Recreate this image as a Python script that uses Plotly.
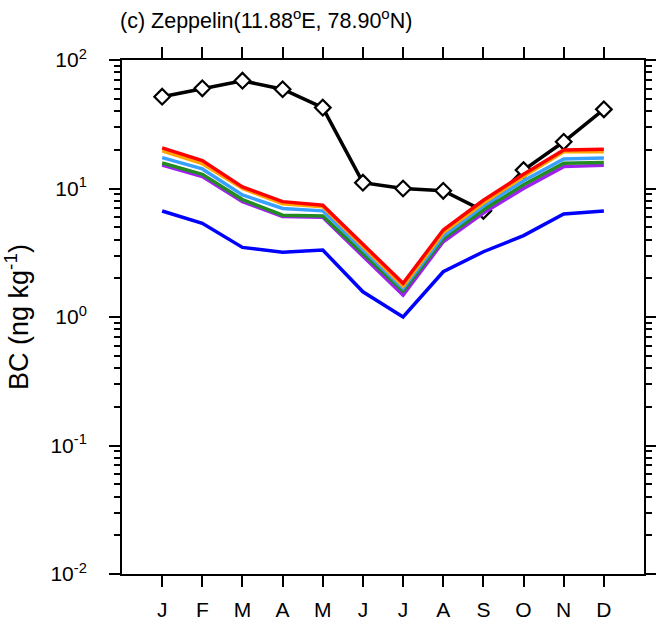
import plotly.graph_objects as go

# Monthly BC mixing ratio at Zeppelin (ng/kg)
months = ["J", "F", "M", "A", "M", "J", "J", "A", "S", "O", "N", "D"]
obs = [51.8, 60.2, 69.0, 59.2, 42.6, 11.1, 10.0, 9.6, 6.7, 13.9, 23.1, 41.3]
exp_red = [20.7, 16.5, 10.3, 7.9, 7.4, 3.7, 1.83, 4.75, 8.1, 12.9, 19.9, 20.2]
exp_orange = [19.6, 15.6, 10.0, 7.6, 7.2, 3.55, 1.74, 4.53, 7.7, 12.4, 19.3, 19.3]
exp_lightblue = [17.4, 14.2, 8.9, 7.0, 6.7, 3.35, 1.67, 4.26, 7.3, 11.5, 17.0, 17.3]
exp_green = [15.8, 12.9, 8.2, 6.2, 6.1, 3.1, 1.59, 4.05, 6.8, 10.7, 15.7, 15.9]
exp_purple = [15.2, 12.4, 7.9, 6.06, 5.97, 2.98, 1.48, 3.85, 6.44, 10.0, 14.8, 15.2]
exp_blue = [6.68, 5.36, 3.48, 3.19, 3.32, 1.57, 1.0, 2.25, 3.22, 4.3, 6.33, 6.68]

y_major = [0.01, 0.1, 1, 10, 100]
y_major_text = ["10<sup>-2</sup>", "10<sup>-1</sup>", "10<sup>0</sup>",
                "10<sup>1</sup>", "10<sup>2</sup>"]

x = list(range(1, 13))
FONT = "Liberation Sans, Arial, Helvetica, sans-serif"

fig = go.Figure()

fig.add_trace(go.Scatter(
    x=x, y=obs, mode="lines+markers", name="obs",
    line=dict(color="black", width=3.5),
    marker=dict(symbol="diamond", size=12, color="white",
                line=dict(color="black", width=2.2)),
))

series = [
    (exp_blue, "#0000FF"),
    (exp_purple, "#A020F0"),
    (exp_green, "#228B22"),
    (exp_lightblue, "#3AA0FF"),
    (exp_orange, "#FFA500"),
    (exp_red, "#FF0000"),
]
for i, (vals, col) in enumerate(series):
    fig.add_trace(go.Scatter(
        x=x, y=vals, mode="lines", name=f"exp{i + 1}",
        line=dict(color=col, width=3.5),
    ))

minor_vals = [k * 10 ** e for e in range(-2, 2) for k in range(2, 10)]

fig.update_layout(
    width=656, height=625,
    margin=dict(l=122, r=12, t=60, b=51),
    paper_bgcolor="white", plot_bgcolor="white",
    showlegend=False,
    font=dict(family=FONT, color="black"),
    xaxis=dict(
        range=[0, 13], tickmode="array", tickvals=x, ticktext=months,
        ticks="outside", ticklen=11, tickwidth=2, tickcolor="black",
        showline=True, linewidth=2, linecolor="black", mirror="ticks",
        showgrid=False, zeroline=False, automargin=False,
        tickfont=dict(size=21, family=FONT), ticklabelstandoff=5,
    ),
    yaxis=dict(
        type="log", range=[-2, 2],
        tickmode="array", tickvals=y_major, ticktext=y_major_text,
        ticks="outside", ticklen=11, tickwidth=2, tickcolor="black",
        minor=dict(tickmode="array", tickvals=minor_vals, ticks="outside",
                   ticklen=6, tickwidth=1.5, tickcolor="black", showgrid=False),
        showline=True, linewidth=2, linecolor="black", mirror="ticks",
        showgrid=False, zeroline=False, automargin=False,
        tickfont=dict(size=21, family=FONT), ticklabelstandoff=18,
        title=dict(text="BC (ng kg<sup>-1</sup>)", font=dict(size=27, family=FONT),
                   standoff=14),
    ),
    annotations=[dict(
        text="(c) Zeppelin(11.88<sup>o</sup>E, 78.90<sup>o</sup>N)",
        xref="paper", yref="paper", x=0, y=1, xanchor="left", yanchor="bottom",
        yshift=25, xshift=-4, showarrow=False,
        font=dict(size=21.5, family=FONT, color="black"),
    )],
)

fig.write_html("out.html")
